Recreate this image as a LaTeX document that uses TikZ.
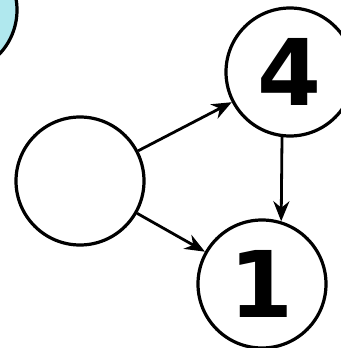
\documentclass[tikz,border=0pt]{standalone}
\usepackage{fontspec}
\usepackage{xcolor}
\newfontfamily\digitfont{DejaVu Sans}
\definecolor{paleteal}{RGB}{176,232,238}
\usetikzlibrary{arrows.meta, positioning}

\begin{document}
\begin{tikzpicture}[
            x=0.5pt, y=0.5pt,
            line join=bevel,
            bignode/.style={shape=circle, draw=black, line width=1.6pt, minimum size=64pt, inner sep=0pt,
                font=\digitfont\bfseries\fontsize{46}{46}\selectfont},
            bigtealnode/.style={bignode, fill=paleteal},
            edgearrow/.style={-{Stealth[length=10pt, width=8pt]}, line width=1.4pt}
            ]

            % Frame
            \clip (0, 0) rectangle (341, 348);

            % Nodes
            \node[bigtealnode] (prev) at (-47, 338) {};
            \node[bignode] (blank) at (80, 167) {};
            \node[bignode] (four) at (290, 276) {4};
            \node[bignode] (one) at (262, 64) {1};

            % Edges
            \draw[edgearrow] (blank) -- (four);
            \draw[edgearrow] (blank) -- (one);
            \draw[edgearrow] (four.263) -- (one.73);
\end{tikzpicture}
\end{document}
